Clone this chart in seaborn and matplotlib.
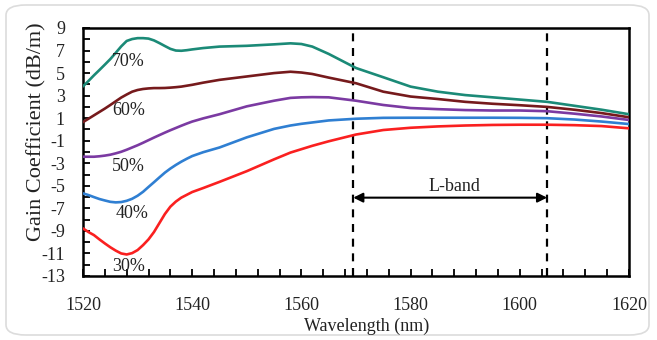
import numpy as np
import pandas as pd
import matplotlib
matplotlib.use("Agg")
import matplotlib.pyplot as plt
import seaborn as sns
from matplotlib.patches import FancyBboxPatch

# ---------------- data ----------------
wavelength = [1520, 1521, 1522, 1523, 1524, 1525, 1526, 1527, 1528, 1529, 1530,
              1531, 1532, 1533, 1534, 1535, 1536, 1537, 1538, 1539, 1540,
              1542, 1545, 1550, 1555, 1558, 1560, 1562, 1565, 1570, 1575, 1580,
              1585, 1590, 1595, 1600, 1605, 1610, 1615, 1620]

gain_70 = [3.82, 4.3, 4.8, 5.27, 5.75, 6.24, 6.8, 7.37, 7.85, 8.02, 8.1,
           8.1, 8.06, 7.9, 7.66, 7.4, 7.15, 7.0, 6.98, 7.03, 7.1,
           7.22, 7.35, 7.42, 7.55, 7.64, 7.58, 7.35, 6.7, 5.45, 4.63, 3.8,
           3.35, 3.05, 2.85, 2.65, 2.45, 2.1, 1.75, 1.35]
gain_60 = [0.65, 0.95, 1.25, 1.55, 1.85, 2.17, 2.5, 2.83, 3.1, 3.35, 3.5,
           3.59, 3.64, 3.67, 3.67, 3.68, 3.71, 3.75, 3.8, 3.88, 3.96,
           4.15, 4.4, 4.7, 5.0, 5.12, 5.05, 4.92, 4.6, 4.1, 3.35, 2.92,
           2.7, 2.45, 2.28, 2.15, 2.0, 1.75, 1.45, 1.08]
gain_50 = [-2.42, -2.42, -2.42, -2.38, -2.32, -2.24, -2.12, -1.98, -1.8, -1.6, -1.4,
           -1.18, -0.95, -0.72, -0.5, -0.28, -0.07, 0.13, 0.33, 0.52, 0.7,
           0.98, 1.35, 2.05, 2.55, 2.8, 2.85, 2.87, 2.85, 2.55, 2.17, 1.9,
           1.8, 1.72, 1.68, 1.68, 1.62, 1.4, 1.15, 0.84]
gain_40 = [-5.67, -5.82, -6.0, -6.17, -6.3, -6.42, -6.47, -6.44, -6.33, -6.15, -5.88,
           -5.53, -5.1, -4.68, -4.25, -3.83, -3.47, -3.15, -2.86, -2.6, -2.36,
           -2.02, -1.6, -0.7, 0.05, 0.35, 0.5, 0.62, 0.8, 0.95, 1.03, 1.04,
           1.04, 1.04, 1.04, 1.03, 1.0, 0.88, 0.7, 0.48]
gain_30 = [-8.78, -9.1, -9.37, -9.75, -10.11, -10.45, -10.75, -11.0, -11.09, -10.97, -10.7,
           -10.26, -9.75, -9.1, -8.3, -7.5, -6.85, -6.4, -6.05, -5.8, -5.55,
           -5.2, -4.65, -3.7, -2.65, -2.05, -1.75, -1.45, -1.05, -0.45, -0.05, 0.15,
           0.27, 0.35, 0.4, 0.42, 0.42, 0.38, 0.3, 0.1]

series_names = ["70%", "60%", "50%", "40%", "30%"]
series_values = [gain_70, gain_60, gain_50, gain_40, gain_30]
series_colors = ["#1b8a77", "#761a1c", "#7b3aa2", "#2f7fd2", "#fa2020"]

# label anchor points (wavelength, gain) for the in-plot percentage labels
label_x = [1528.2, 1528.4, 1528.3, 1528.9, 1528.4]
label_y = [5.65, 1.28, -3.69, -7.83, -12.56]

band_edges = [1569.5, 1605]
band_label = "L-band"
band_label_y = -5.45
band_arrow_y = -6.05

x_ticks = [1520, 1540, 1560, 1580, 1600, 1620]
y_ticks = [-13, -11, -9, -7, -5, -3, -1, 1, 3, 5, 7, 9]

# ---------------- plot ----------------
sns.set_theme(style="white")
plt.rcParams["font.family"] = ["Liberation Serif", "DejaVu Serif"]
plt.rcParams["axes.unicode_minus"] = False

df = pd.DataFrame({
    "Wavelength": np.tile(wavelength, len(series_names)),
    "Gain": np.concatenate(series_values),
    "Series": np.repeat(series_names, len(wavelength)),
})

fig = plt.figure(figsize=(6.57, 3.40), dpi=100)
ax = fig.add_axes([83 / 657, 1 - 276 / 340, (629 - 83) / 657, (276 - 28) / 340])

# rounded frame around the whole figure
frame = FancyBboxPatch((6 / 657, 5 / 340), 643 / 657, 330 / 340,
                       boxstyle="round,pad=0,rounding_size=0.03",
                       transform=fig.transFigure, facecolor="none",
                       edgecolor="#dcdcdc", linewidth=1.2, zorder=0)
fig.patches.append(frame)

sns.lineplot(data=df, x="Wavelength", y="Gain", hue="Series",
             hue_order=series_names, palette=series_colors,
             linewidth=1.9, legend=False, ax=ax, zorder=3)

for name, lx, ly in zip(series_names, label_x, label_y):
    ax.text(lx, ly, name, ha="center", va="baseline", fontsize=13,
            color="#222222", zorder=4)

for xe in band_edges:
    ax.axvline(xe, color="black", linewidth=1.6, linestyle=(0, (3.6, 3.0)), zorder=2)

ax.annotate("", xy=(band_edges[1], band_arrow_y), xytext=(band_edges[0], band_arrow_y),
            arrowprops=dict(arrowstyle="<|-|>", color="black", lw=1.5,
                            mutation_scale=14, shrinkA=0, shrinkB=0))
ax.text(sum(band_edges) / 2 + 0.8, band_label_y, band_label, ha="center",
        va="baseline", fontsize=13, color="#222222")

ax.set_xlim(1520, 1620)
ax.set_ylim(-13, 9)
ax.set_xticks(x_ticks)
ax.set_xticks(np.arange(1520, 1621, 4), minor=True)
ax.set_yticks(y_ticks)
ax.set_yticks(np.arange(-13, 10, 1), minor=True)
ax.tick_params(axis="both", which="both", direction="in", color="black",
               length=5, width=1.3, labelsize=13, labelcolor="#222222")
ax.tick_params(axis="x", which="both", bottom=True, top=False, pad=15)
ax.tick_params(axis="y", which="both", left=True, right=False, pad=13)
for side in ["left", "right", "top", "bottom"]:
    ax.spines[side].set_color("black")
    ax.spines[side].set_linewidth(1.8)

ax.set_xlabel("")
ax.set_ylabel("")
fig.text(367 / 657, 1 - 326 / 340, "Wavelength (nm)", ha="center", va="center",
         fontsize=13, color="#222222")
fig.text(37 / 657, 1 - 132 / 340, "Gain Coefficient (dB/m)", ha="center",
         va="center", rotation=90, fontsize=16, color="#222222")

fig.savefig("out.png", dpi=100)
